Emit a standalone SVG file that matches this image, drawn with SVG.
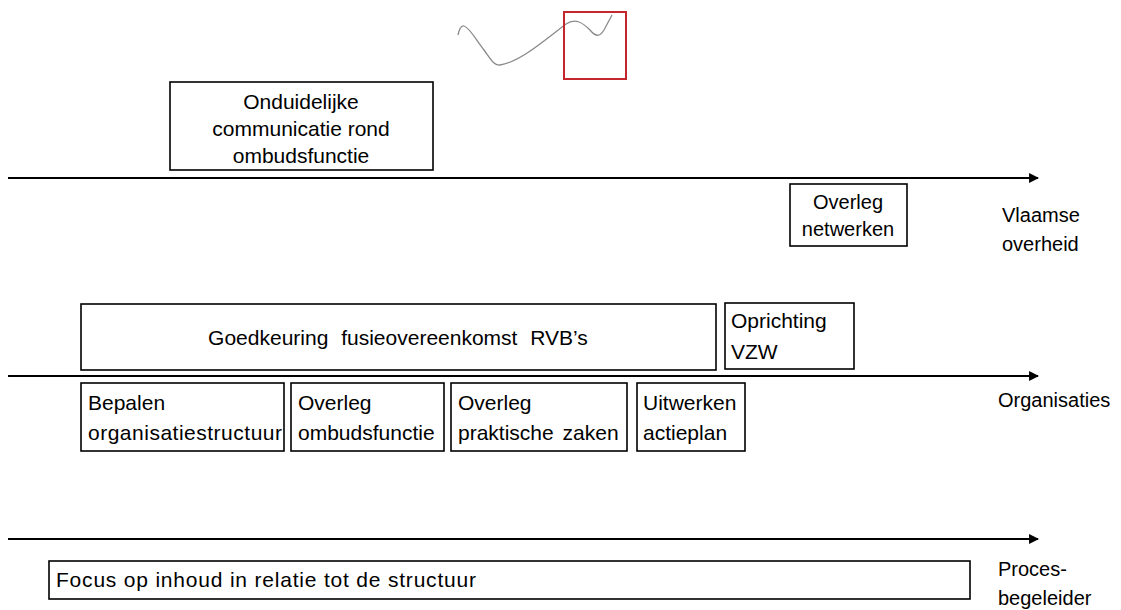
<svg xmlns="http://www.w3.org/2000/svg" width="1121" height="610" viewBox="0 0 1121 610">
  <style>
    .box { fill: #ffffff; stroke: #000000; stroke-width: 1.6; }
    .axis { fill: none; stroke: #000000; stroke-width: 1.8; }
    text { font-family: "Liberation Sans", Arial, sans-serif; fill: #000000; }
    .t20 { font-size: 20px; }
    .t21 { font-size: 21px; }
    .mid { text-anchor: middle; }
  </style>
  <defs>
    <marker id="arrowhead" viewBox="0 0 10 10" refX="9" refY="5" markerWidth="6.5" markerHeight="5.5" markerUnits="strokeWidth" orient="auto">
      <path d="M0,0 L10,5 L0,10 Z" fill="#000000"/>
    </marker>
  </defs>
  <rect width="1121" height="610" fill="#ffffff"/>

  <!-- sketch mark at the top -->
  <g id="sketch">
    <path d="M458,35 C459,30 461,25 464,26 C470,28 476,40 484,50 C490,58 494,66 500,65 C520,62 545,40 566,24 C575,18 582,22 590,30 C595,36 599,38 604,30 L612,15" fill="none" stroke="#8a8a8a" stroke-width="1.3"/>
    <rect x="564" y="12" width="62" height="67" fill="none" stroke="#c3262b" stroke-width="2"/>
  </g>

  <!-- time axes -->
  <g id="connectors">
    <line class="axis" x1="8" y1="178" x2="1038" y2="178" marker-end="url(#arrowhead)"/>
    <line class="axis" x1="8" y1="376" x2="1038" y2="376" marker-end="url(#arrowhead)"/>
    <line class="axis" x1="8" y1="539" x2="1038" y2="539" marker-end="url(#arrowhead)"/>
  </g>

  <!-- lane labels -->
  <g id="lane-vlaamse-overheid">
    <text class="t20" x="1002" y="222">Vlaamse</text>
    <text class="t20" x="1002" y="251">overheid</text>
  </g>
  <g id="lane-organisaties">
    <text class="t20" x="998" y="407">Organisaties</text>
  </g>
  <g id="lane-procesbegeleider">
    <text class="t20" x="998" y="576">Proces-</text>
    <text class="t20" x="998" y="605">begeleider</text>
  </g>

  <!-- Vlaamse overheid lane -->
  <g id="node-onduidelijke-communicatie">
    <rect class="box" x="170" y="82" width="263" height="88"/>
    <text class="t21 mid" x="301" y="109">Onduidelijke</text>
    <text class="t21 mid" x="301" y="136">communicatie rond</text>
    <text class="t21 mid" x="301" y="163">ombudsfunctie</text>
  </g>
  <g id="node-overleg-netwerken">
    <rect class="box" x="790" y="184" width="117" height="62"/>
    <text class="t20 mid" x="848" y="209">Overleg</text>
    <text class="t20 mid" x="848" y="236">netwerken</text>
  </g>

  <!-- Organisaties lane -->
  <g id="node-goedkeuring">
    <rect class="box" x="81" y="304" width="635" height="66"/>
    <text class="t21 mid" x="398" y="345" word-spacing="7">Goedkeuring fusieovereenkomst RVB’s</text>
  </g>
  <g id="node-oprichting-vzw">
    <rect class="box" x="725" y="303" width="129" height="66"/>
    <text class="t21" x="731" y="328">Oprichting</text>
    <text class="t21" x="731" y="359">VZW</text>
  </g>
  <g id="node-bepalen-organisatiestructuur">
    <rect class="box" x="81" y="383" width="203" height="68"/>
    <text class="t21" x="88" y="410">Bepalen</text>
    <text class="t21" x="88" y="440" textLength="194">organisatiestructuur</text>
  </g>
  <g id="node-overleg-ombudsfunctie">
    <rect class="box" x="291" y="383" width="153" height="68"/>
    <text class="t21" x="298" y="410">Overleg</text>
    <text class="t21" x="298" y="440">ombudsfunctie</text>
  </g>
  <g id="node-overleg-praktische-zaken">
    <rect class="box" x="451" y="383" width="176" height="68"/>
    <text class="t21" x="458" y="410">Overleg</text>
    <text class="t21" x="458" y="440" word-spacing="3">praktische zaken</text>
  </g>
  <g id="node-uitwerken-actieplan">
    <rect class="box" x="637" y="383" width="108" height="68"/>
    <text class="t21" x="643" y="410">Uitwerken</text>
    <text class="t21" x="643" y="440">actieplan</text>
  </g>

  <!-- Procesbegeleider lane -->
  <g id="node-focus-op-inhoud">
    <rect class="box" x="49" y="561" width="921" height="38"/>
    <text class="t21" x="56" y="587" textLength="420">Focus op inhoud in relatie tot de structuur</text>
  </g>
</svg>
